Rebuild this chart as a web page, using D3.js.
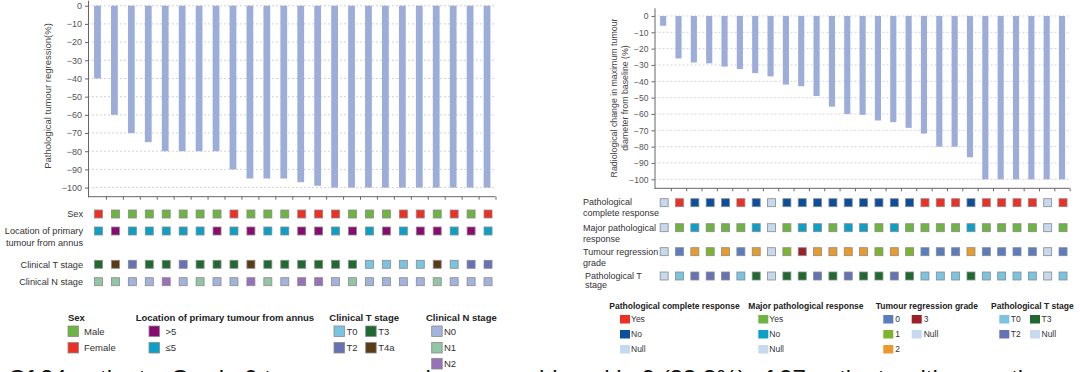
<!DOCTYPE html>
<html>
<head>
<meta charset="utf-8">
<script src="https://cdn.jsdelivr.net/npm/d3@7"></script>
<style>
  body { margin: 0; background: #fff; }
  svg { display: block; font-family: "Liberation Sans", Arial, sans-serif; }
</style>
</head>
<body>
<div class="visualisation"></div>
<script>
// ---- data ----
var yTicks = [0, -10, -20, -30, -40, -50, -60, -70, -80, -90, -100];

// left panel: 24 patients
var leftValues = [-40, -60, -70, -75, -80, -80, -80, -80, -90, -95, -95, -95, -97, -99,
  -100, -100, -100, -100, -100, -100, -100, -100, -100, -100];
var sexRow = ["F", "M", "M", "M", "M", "M", "M", "M", "F", "M", "M", "M", "F", "F", "F", "M",
  "M", "M", "F", "F", "M", "F", "M", "F"];
var locationRow = ["le5", "gt5", "le5", "le5", "le5", "le5", "le5", "gt5", "le5", "gt5", "le5", "le5",
  "gt5", "gt5", "le5", "gt5", "le5", "gt5", "le5", "gt5", "gt5", "le5", "gt5", "le5"];
var clinTRow = ["T3", "T4a", "T2", "T3", "T3", "T2", "T3", "T3", "T3", "T4a", "T3", "T3", "T3", "T3",
  "T3", "T3", "T0", "T0", "T0", "T0", "T4a", "T0", "T2", "T2"];
var clinNRow = ["N1", "N1", "N0", "N0", "N2", "N0", "N1", "N0", "N0", "N2", "N1", "N0", "N2", "N2",
  "N0", "N1", "N0", "N0", "N0", "N0", "N1", "N0", "N0", "N0"];

// right panel: 27 patients
var rightValues = [-6, -26, -28.5, -29, -31, -32.5, -35, -37, -42, -43, -49, -55.5, -60, -60.5,
  -64, -65, -68.5, -72, -80, -80, -86.5, -100, -100, -100, -100, -100, -100];
var pcrRow = ["Null", "Yes", "No", "No", "No", "Yes", "No", "Null", "No", "No", "No", "No", "No", "No",
  "No", "No", "No", "Yes", "Yes", "Yes", "No", "Yes", "Yes", "Yes", "Yes", "Null", "Yes"];
var mprRow = ["Null", "Yes", "No", "Yes", "Yes", "Yes", "No", "Null", "Yes", "No", "No", "Yes", "No", "No",
  "Yes", "No", "Yes", "Yes", "Yes", "Yes", "No", "Yes", "Yes", "Yes", "Yes", "Null", "Yes"];
var trgRow = ["Null", "0", "2", "1", "2", "0", "2", "Null", "1", "3", "2", "2", "2", "2",
  "1", "2", "1", "0", "0", "0", "2", "0", "0", "0", "0", "Null", "0"];
var pathTRow = ["Null", "T0", "T2", "T2", "T2", "T0", "T3", "Null", "T3", "T3", "T2", "T3", "T2", "T3",
  "T3", "T2", "T3", "T0", "T0", "T0", "T3", "T0", "T0", "T0", "T0", "Null", "T0"];

// ---- colours ----
var barColor = "#9badd8";
var nullCol = "#c6d9ef";
var sexColor = d3.scaleOrdinal().domain(["M", "F"]).range(["#6db540", "#ee2f24"]);
var locColor = d3.scaleOrdinal().domain(["gt5", "le5"]).range(["#870b70", "#0aa0c8"]);
var tColor = d3.scaleOrdinal().domain(["T0", "T2", "T3", "T4a", "Null"]).range(["#7ac4e2", "#6672b6", "#1e6a30", "#5b3b14", nullCol]);
var nColor = d3.scaleOrdinal().domain(["N0", "N1", "N2"]).range(["#a2b3de", "#92c4a6", "#9771b9"]);
var pcrColor = d3.scaleOrdinal().domain(["Yes", "No", "Null"]).range(["#ee2f24", "#0b4e9b", nullCol]);
var mprColor = d3.scaleOrdinal().domain(["Yes", "No", "Null"]).range(["#6db540", "#0aa0c8", nullCol]);
var trgColor = d3.scaleOrdinal().domain(["0", "1", "2", "3", "Null"]).range(["#5a7dbf", "#7db42e", "#e99a2b", "#9c2126", nullCol]);

var width = 1080, height = 372;

var svg = d3.select(".visualisation").append("svg")
    .attr("width", width)
    .attr("height", height);

var drawPanel = function(values, opt) {
  var g = svg.append("g");
  var x = d3.scaleBand().domain(d3.range(values.length)).range(opt.xRange).paddingInner(0.6).paddingOuter(0.3);
  var y = d3.scaleLinear().domain(opt.yDomain).range(opt.yRange);
  var axisX = opt.xRange[0] - 1;

  // dotted grid
  g.selectAll(".grid").data(yTicks).enter().append("line")
      .attr("x1", axisX).attr("x2", opt.xRange[1])
      .attr("y1", function(d) { return y(d); })
      .attr("y2", function(d) { return y(d); })
      .attr("stroke", "#c8c8c8")
      .attr("stroke-width", 0.8)
      .attr("stroke-dasharray", "2,2");

  g.selectAll(".bar").data(values).enter().append("rect")
      .attr("x", function(d, i) { return x(i); })
      .attr("width", x.bandwidth())
      .attr("y", y(0))
      .attr("height", function(d) { return y(d) - y(0); })
      .attr("fill", barColor);

  var ya = g.append("g")
      .attr("transform", "translate(" + axisX + ",0)")
      .call(d3.axisLeft(y).tickValues(yTicks).tickSize(3).tickSizeOuter(0).tickPadding(3));
  ya.selectAll("text").attr("fill", "#555").style("font-size", opt.tickFont);
  ya.selectAll("line, path").attr("stroke", "#666");

  // x axis: ticks between patients
  var xi = d3.scaleLinear().domain([0, values.length]).range(opt.xRange);
  var xa = g.append("g")
      .attr("transform", "translate(0," + y(opt.yDomain[1]) + ")")
      .call(d3.axisBottom(xi).tickValues(d3.range(1, values.length + 1)).tickFormat("").tickSize(3).tickSizeOuter(0));
  xa.select("path").attr("d", "M" + axisX + ",0H" + opt.xRange[1]);
  xa.selectAll("line, path").attr("stroke", "#666");

  // y title
  var t = g.append("text")
      .attr("transform", "translate(" + opt.titleX + "," + opt.titleY + ") rotate(-90)")
      .attr("text-anchor", "middle")
      .attr("fill", "#444")
      .style("font-size", opt.titleFont);
  opt.title.forEach(function(line, k) {
    t.append("tspan").attr("x", 0).attr("dy", k === 0 ? 0 : "1.2em").text(line);
  });

  // annotation rows
  opt.rows.forEach(function(r) {
    g.selectAll(null).data(r.data).enter().append("rect")
        .attr("x", function(d, i) { return x(i) + x.bandwidth() / 2 - 4 + opt.sqShift; })
        .attr("y", r.y - 4)
        .attr("width", 8).attr("height", 8)
        .attr("fill", function(d) { return r.color(d); })
        .attr("stroke", "#8a8a8a")
        .attr("stroke-width", 0.8);
    var lab = g.append("text")
        .attr("x", r.lx).attr("y", r.ly)
        .attr("text-anchor", r.anchor)
        .attr("fill", "#333")
        .style("font-size", opt.rowFont);
    r.label.forEach(function(line, k) {
      lab.append("tspan").attr("x", r.lx).attr("dy", k === 0 ? "0.35em" : (r.lh || 11) + "px").text(line);
    });
  });
}

drawPanel(leftValues, {
  xRange: [89, 495.5], yDomain: [3, -105], yRange: [0.25, 196.7],
  tickFont: "9px", titleFont: "9.5px", rowFont: "9.2px",
  title: ["Pathological tumour regression(%)"], titleX: 51, titleY: 96,
  sqShift: 1,
  rows: [
    { data: sexRow, color: sexColor, y: 214, label: ["Sex"], lx: 83, ly: 214, anchor: "end" },
    { data: locationRow, color: locColor, y: 231, label: ["Location of primary", "tumour from annus"], lx: 83, ly: 231, anchor: "end", lh: 11.5 },
    { data: clinTRow, color: tColor, y: 264.3, label: ["Clinical T stage"], lx: 83, ly: 264.3, anchor: "end" },
    { data: clinNRow, color: nColor, y: 281.7, label: ["Clinical N stage"], lx: 83, ly: 281.7, anchor: "end" }
  ]
});

drawPanel(rightValues, {
  xRange: [655.5, 1069.7], yDomain: [5, -105.5], yRange: [7.8, 188.3],
  tickFont: "8.5px", titleFont: "8.8px", rowFont: "9px",
  title: ["Radiological change in maximum tumour", "diameter from baseline (%)"], titleX: 617, titleY: 98,
  sqShift: 1,
  rows: [
    { data: pcrRow, color: pcrColor, y: 202.7, label: ["Pathological", "complete response"], lx: 583, ly: 201.5, anchor: "start" },
    { data: mprRow, color: mprColor, y: 227.7, label: ["Major pathological", "response"], lx: 583, ly: 227.5, anchor: "start" },
    { data: trgRow, color: trgColor, y: 251.7, label: ["Tumour regression", "grade"], lx: 583, ly: 251.5, anchor: "start" },
    { data: pathTRow, color: tColor, y: 276, label: ["Pathological T", "stage"], lx: 585, ly: 276, anchor: "start", lh: 9 }
  ]
});

// ---- legends ----
var legend = function(cfg) {
  var g = svg.append("g");
  g.append("text")
      .attr("x", cfg.x).attr("y", cfg.y)
      .attr("dy", "0.35em")
      .attr("fill", "#222")
      .style("font-size", cfg.font)
      .style("font-weight", "bold")
      .text(cfg.title);
  cfg.items.forEach(function(it) {
    var sx = cfg.cols[it.c], sy = cfg.rows[it.r];
    g.append("rect")
        .attr("x", sx).attr("y", sy)
        .attr("width", cfg.sw).attr("height", cfg.sh)
        .attr("fill", it.color)
        .attr("stroke", cfg.stroke ? "#8a8a8a" : "none")
        .attr("stroke-width", 0.8);
    g.append("text")
        .attr("x", sx + cfg.lo).attr("y", sy + cfg.sh / 2)
        .attr("dy", "0.35em")
        .attr("fill", "#333")
        .style("font-size", cfg.font)
        .text(it.label);
  });
}

var lRows = [326, 342.5, 358.5];
legend({ title: "Sex", x: 68, y: 317.5, font: "9.5px", sw: 10.5, sh: 10.5, stroke: true, lo: 16,
  cols: [68], rows: lRows,
  items: [{ label: "Male", color: sexColor("M"), c: 0, r: 0 }, { label: "Female", color: sexColor("F"), c: 0, r: 1 }] });
legend({ title: "Location of primary tumour from annus", x: 135.7, y: 317.5, font: "9.5px", sw: 10.5, sh: 10.5, stroke: true, lo: 16.5,
  cols: [149], rows: lRows,
  items: [{ label: ">5", color: locColor("gt5"), c: 0, r: 0 }, { label: "\u22645", color: locColor("le5"), c: 0, r: 1 }] });
legend({ title: "Clinical T stage", x: 329.3, y: 317.5, font: "9.5px", sw: 10.5, sh: 10.5, stroke: true, lo: 12.5,
  cols: [334, 365.7], rows: lRows,
  items: [{ label: "T0", color: tColor("T0"), c: 0, r: 0 }, { label: "T3", color: tColor("T3"), c: 1, r: 0 },
    { label: "T2", color: tColor("T2"), c: 0, r: 1 }, { label: "T4a", color: tColor("T4a"), c: 1, r: 1 }] });
legend({ title: "Clinical N stage", x: 426, y: 317.5, font: "9.5px", sw: 10.5, sh: 10.5, stroke: true, lo: 12.3,
  cols: [431.7], rows: lRows,
  items: [{ label: "N0", color: nColor("N0"), c: 0, r: 0 }, { label: "N1", color: nColor("N1"), c: 0, r: 1 },
    { label: "N2", color: nColor("N2"), c: 0, r: 2 }] });

var rRows = [315, 330, 345];
legend({ title: "Pathological complete response", x: 609.3, y: 305.7, font: "8.5px", sw: 10, sh: 8.5, lo: 11,
  cols: [620], rows: rRows,
  items: [{ label: "Yes", color: pcrColor("Yes"), c: 0, r: 0 }, { label: "No", color: pcrColor("No"), c: 0, r: 1 },
    { label: "Null", color: nullCol, c: 0, r: 2 }] });
legend({ title: "Major pathological response", x: 748.3, y: 305.7, font: "8.5px", sw: 10, sh: 8.5, lo: 11,
  cols: [758.3], rows: rRows,
  items: [{ label: "Yes", color: mprColor("Yes"), c: 0, r: 0 }, { label: "No", color: mprColor("No"), c: 0, r: 1 },
    { label: "Null", color: nullCol, c: 0, r: 2 }] });
legend({ title: "Tumour regression grade", x: 875.7, y: 305.7, font: "8.5px", sw: 10, sh: 8.5, lo: 12,
  cols: [883.3, 911.7], rows: rRows,
  items: [{ label: "0", color: trgColor("0"), c: 0, r: 0 }, { label: "3", color: trgColor("3"), c: 1, r: 0 },
    { label: "1", color: trgColor("1"), c: 0, r: 1 }, { label: "Null", color: nullCol, c: 1, r: 1 },
    { label: "2", color: trgColor("2"), c: 0, r: 2 }] });
legend({ title: "Pathological T stage", x: 991, y: 305.7, font: "8.5px", sw: 10, sh: 8.5, lo: 11.5,
  cols: [999.3, 1030], rows: rRows,
  items: [{ label: "T0", color: tColor("T0"), c: 0, r: 0 }, { label: "T3", color: tColor("T3"), c: 1, r: 0 },
    { label: "T2", color: tColor("T2"), c: 0, r: 1 }, { label: "Null", color: nullCol, c: 1, r: 1 }] });

// caption text cut off at the bottom edge of the crop
svg.append("text")
    .attr("x", 8).attr("y", 387)
    .attr("fill", "#111")
    .style("font-size", "24px")
    .text("Of 24 patients, Grade 0 tumour regression was achieved in 9 (33.3%) of 27 patients with resection");
</script>
</body>
</html>
